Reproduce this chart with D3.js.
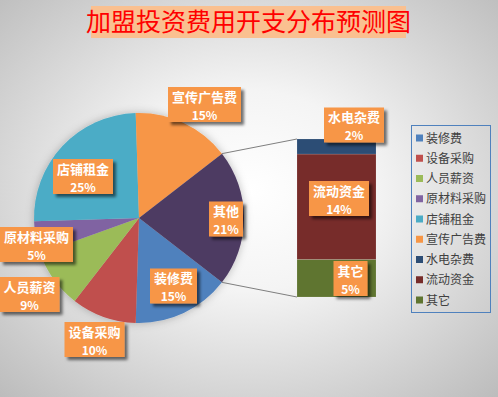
<!DOCTYPE html>
<html><head><meta charset="utf-8">
<script src="https://cdn.jsdelivr.net/npm/d3@7/dist/d3.min.js"></script>
<style>html,body{margin:0;padding:0;overflow:hidden;}svg{display:block;}</style>
</head><body>
<script>
// ---- data ----
const title = "加盟投资费用开支分布预测图";
const pieCategories = ["装修费","设备采购","人员薪资","原材料采购","店铺租金","宣传广告费","其他"];
const pieValues = [15,10,9,5,25,15,21];
const barCategories = ["水电杂费","流动资金","其它"];
const barValues = [2,14,5];
const legendCategories = ["装修费","设备采购","人员薪资","原材料采购","店铺租金","宣传广告费","水电杂费","流动资金","其它"];

// ---- styles / layout ----
const colors = {"装修费":"#4F81BD","设备采购":"#C0504D","人员薪资":"#9BBB59","原材料采购":"#8064A2","店铺租金":"#4BACC6","宣传广告费":"#F79646","其他":"#4D3B62","水电杂费":"#2C4D75","流动资金":"#772C2A","其它":"#5F7530"};
const W=498,H=397;
const cx=139, cy=218, R=105;
const barX0=297, barX1=376, barTop=139, barBottom=297;
const labelPos = {"装修费":[173.5,286],"设备采购":[94.5,339.5],"人员薪资":[29.5,294.5],"原材料采购":[36.5,244.5],"店铺租金":[83,176.5],"宣传广告费":[204.5,104.5],"其他":[226,219],"水电杂费":[354,125],"流动资金":[339,198.5],"其它":[350.5,278.5]};
const font = "'Noto Sans CJK SC','Noto Sans',sans-serif";

const svg = d3.select("body").append("svg").attr("width",W).attr("height",H);
const defs = svg.append("defs");
const rg = defs.append("radialGradient").attr("id","bg").attr("cx","50%").attr("cy","48%").attr("r","72%");
rg.append("stop").attr("offset","0%").attr("stop-color","#ffffff");
rg.append("stop").attr("offset","35%").attr("stop-color","#f4f4f4");
rg.append("stop").attr("offset","100%").attr("stop-color","#bcbcbc");
const f = defs.append("filter").attr("id","sh").attr("x","-20%").attr("y","-20%").attr("width","150%").attr("height","160%");
f.append("feDropShadow").attr("dx",3).attr("dy",3).attr("stdDeviation",1.5).attr("flood-color","#000").attr("flood-opacity",0.55);
const f2 = defs.append("filter").attr("id","glow").attr("x","-20%").attr("y","-20%").attr("width","140%").attr("height","140%");
f2.append("feDropShadow").attr("dx",0).attr("dy",0).attr("stdDeviation",4).attr("flood-color","#000").attr("flood-opacity",0.25);

svg.append("rect").attr("width",W).attr("height",H).attr("fill","url(#bg)");

// title
svg.append("rect").attr("x",91).attr("y",6).attr("width",315).attr("height",32).attr("fill","#FAC090");
svg.append("text").attr("x",248.5).attr("y",31).attr("text-anchor","middle")
  .attr("font-family",font).attr("font-size",25).attr("fill","#FF0000").text(title);

// pie
const total = d3.sum(pieValues);
const otherFrac = pieValues[pieValues.length-1]/total;
const start = Math.PI/2 + otherFrac*Math.PI;
const pie = d3.pie().sort(null).value(d=>d.v).startAngle(start).endAngle(start+2*Math.PI);
const arcs = pie(pieCategories.map((c,i)=>({c, v:pieValues[i]})));
const arc = d3.arc().innerRadius(0).outerRadius(R);
const pg = svg.append("g").attr("transform",`translate(${cx},${cy})`).attr("filter","url(#glow)");
pg.selectAll("path").data(arcs).join("path").attr("d",arc).attr("fill",d=>colors[d.data.c]);

// connector lines
const other = arcs[arcs.length-1];
const pt = a => [cx + R*Math.sin(a), cy - R*Math.cos(a)];
const y = d3.scaleLinear().domain([0,d3.sum(barValues)]).range([barBottom,barTop]);
const p1 = pt(other.startAngle), p2 = pt(other.endAngle);
svg.append("line").attr("x1",p1[0]).attr("y1",p1[1]).attr("x2",barX0).attr("y2",y(d3.sum(barValues))).attr("stroke","#7f7f7f").attr("stroke-width",1);
svg.append("line").attr("x1",p2[0]).attr("y1",p2[1]).attr("x2",barX0).attr("y2",y(0)).attr("stroke","#7f7f7f").attr("stroke-width",1);

// stacked bar (bottom to top: 其它, 流动资金, 水电杂费)
let acc = 0;
const segs = [];
for (let i=barValues.length-1;i>=0;i--){ segs.push({c:barCategories[i], y0:acc, y1:acc+barValues[i]}); acc+=barValues[i]; }
svg.append("g").selectAll("rect").data(segs).join("rect")
  .attr("x",barX0).attr("width",barX1-barX0)
  .attr("y",d=>y(d.y1)).attr("height",d=>y(d.y0)-y(d.y1))
  .attr("fill",d=>colors[d.c]).attr("stroke","#ffffff").attr("stroke-opacity",0.25).attr("stroke-width",0.5);

// labels
const labels = arcs.map(d=>({c:d.data.c, p:Math.round(d.data.v/total*100)}))
  .concat(barCategories.map((c,i)=>({c, p:Math.round(barValues[i]/total*100)})));
const lg = svg.append("g");
labels.forEach(l=>{
  const [x,yy] = labelPos[l.c];
  const w = l.c.length*13+8, h=35;
  const g = lg.append("g").attr("transform",`translate(${x},${yy})`);
  g.append("rect").attr("x",-w/2).attr("y",-h/2).attr("width",w).attr("height",h).attr("fill","#F79646").attr("filter","url(#sh)");
  g.append("text").attr("y",-3).attr("text-anchor","middle").attr("font-family",font).attr("font-weight","bold")
    .attr("font-size",13).attr("fill","#fff").text(l.c);
  g.append("text").attr("y",15).attr("text-anchor","middle").attr("font-family",font).attr("font-weight","bold")
    .attr("font-size",12).attr("fill","#fff").text(l.p+"%");
});

// legend
const leg = svg.append("g");
leg.append("rect").attr("x",411.5).attr("y",125.5).attr("width",79).attr("height",187).attr("fill","none").attr("stroke","#4F81BD").attr("stroke-width",1);
const ly = d3.scalePoint().domain(legendCategories).range([138,300]);
legendCategories.forEach(c=>{
  leg.append("rect").attr("x",416).attr("y",ly(c)-3.5).attr("width",7).attr("height",7).attr("fill",colors[c]);
  leg.append("text").attr("x",426).attr("y",ly(c)+4.5).attr("font-family",font).attr("font-size",12).attr("fill","#404040").text(c);
});
</script>
</body></html>
